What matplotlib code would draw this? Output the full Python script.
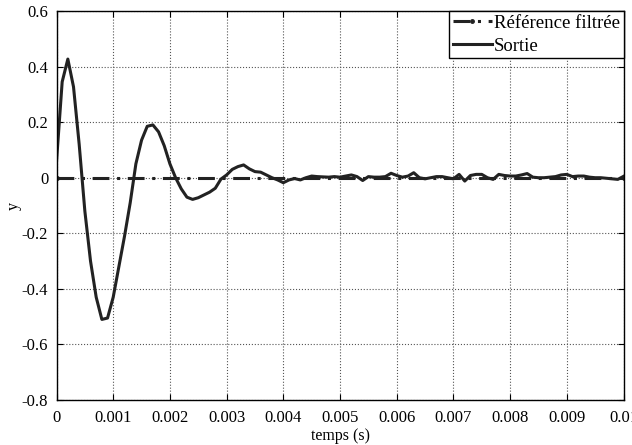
import matplotlib
matplotlib.use("Agg")
import matplotlib.pyplot as plt
import numpy as np
from matplotlib.ticker import FuncFormatter

plt.rcParams['font.family'] = ['Liberation Serif', 'DejaVu Serif']
plt.rcParams['axes.unicode_minus'] = False

t = np.arange(101) * 1e-4
sortie = [
    0.058, 0.345, 0.427, 0.327, 0.12, -0.12, -0.30, -0.43, -0.51, -0.505,
    -0.43, -0.32, -0.21, -0.09, 0.05, 0.135, 0.185, 0.19, 0.165, 0.115,
    0.05, 0.0, -0.04, -0.07, -0.078, -0.072, -0.062, -0.052, -0.038, -0.005,
    0.01, 0.03, 0.04, 0.046, 0.032, 0.022, 0.02, 0.01, 0.0, -0.008,
    -0.018, -0.008, -0.003, -0.008, 0.0, 0.006, 0.004, 0.003, 0.002, 0.004,
    0.002, 0.006, 0.01, 0.004, -0.01, 0.004, 0.002, 0.002, 0.004, 0.016,
    0.008, 0.002, 0.006, 0.018, 0.0, -0.004, 0.0, 0.004, 0.004, 0.0,
    -0.004, 0.012, -0.012, 0.008, 0.012, 0.012, 0.0, -0.006, 0.012, 0.008,
    0.006, 0.006, 0.01, 0.015, 0.002, 0.0, 0.0, 0.002, 0.004, 0.01,
    0.012, 0.004, 0.006, 0.006, 0.002, 0.0, 0.0, -0.002, -0.004, -0.006,
    0.005,
]
t_ref = [0.0, 0.01]
ref = [0.0, 0.0]

xticks = np.arange(0, 0.0101, 0.001)
yticks = np.arange(-0.8, 0.61, 0.2)


def fmt(v, p):
    # avoid '-0' for the tiny negative zero coming from arange
    return '%g' % (round(v, 4) + 0.0)


# %% Plot
fig = plt.figure(figsize=(6.32, 4.45), dpi=100)
ax = fig.add_axes([0.0894, 0.1011, 0.8972, 0.8742])

ax.plot(t_ref, ref, color='#222222', linestyle='-.', dashes=(5.5, 2.5, 1, 2.5),
        linewidth=2.2, marker='.', markersize=5, label='Référence filtrée')
ax.plot(t, sortie, color='#222222', linewidth=2.2, label='Sortie')

ax.set_xlim(0, 0.01)
ax.set_ylim(-0.8, 0.6)
ax.set_xticks(xticks)
ax.set_yticks(yticks)
ax.xaxis.set_major_formatter(FuncFormatter(fmt))
ax.yaxis.set_major_formatter(FuncFormatter(fmt))
ax.tick_params(direction='in', length=4, labelsize=12, top=True, right=True,
               labeltop=False, labelright=False)
ax.tick_params(axis='x', pad=7)
ax.tick_params(axis='y', pad=6)
ax.grid(True, linestyle=':', color='#555555', linewidth=0.8)

for s in ax.spines.values():
    s.set_linewidth(1.0)

ax.set_xlabel('temps (s)', fontsize=11.5)
ax.set_ylabel('y', fontsize=11.5)
ax.xaxis.set_label_coords(0.5, -0.072)
ax.yaxis.set_label_coords(-0.062, 0.5)

leg = ax.legend(loc='upper right', fontsize=13.5, borderaxespad=0,
                fancybox=False, framealpha=1, edgecolor='black',
                handlelength=2.1, handletextpad=0.1, borderpad=0.2,
                labelspacing=0.3)
leg.get_frame().set_linewidth(1.0)

fig.savefig('out.png', dpi=100)
